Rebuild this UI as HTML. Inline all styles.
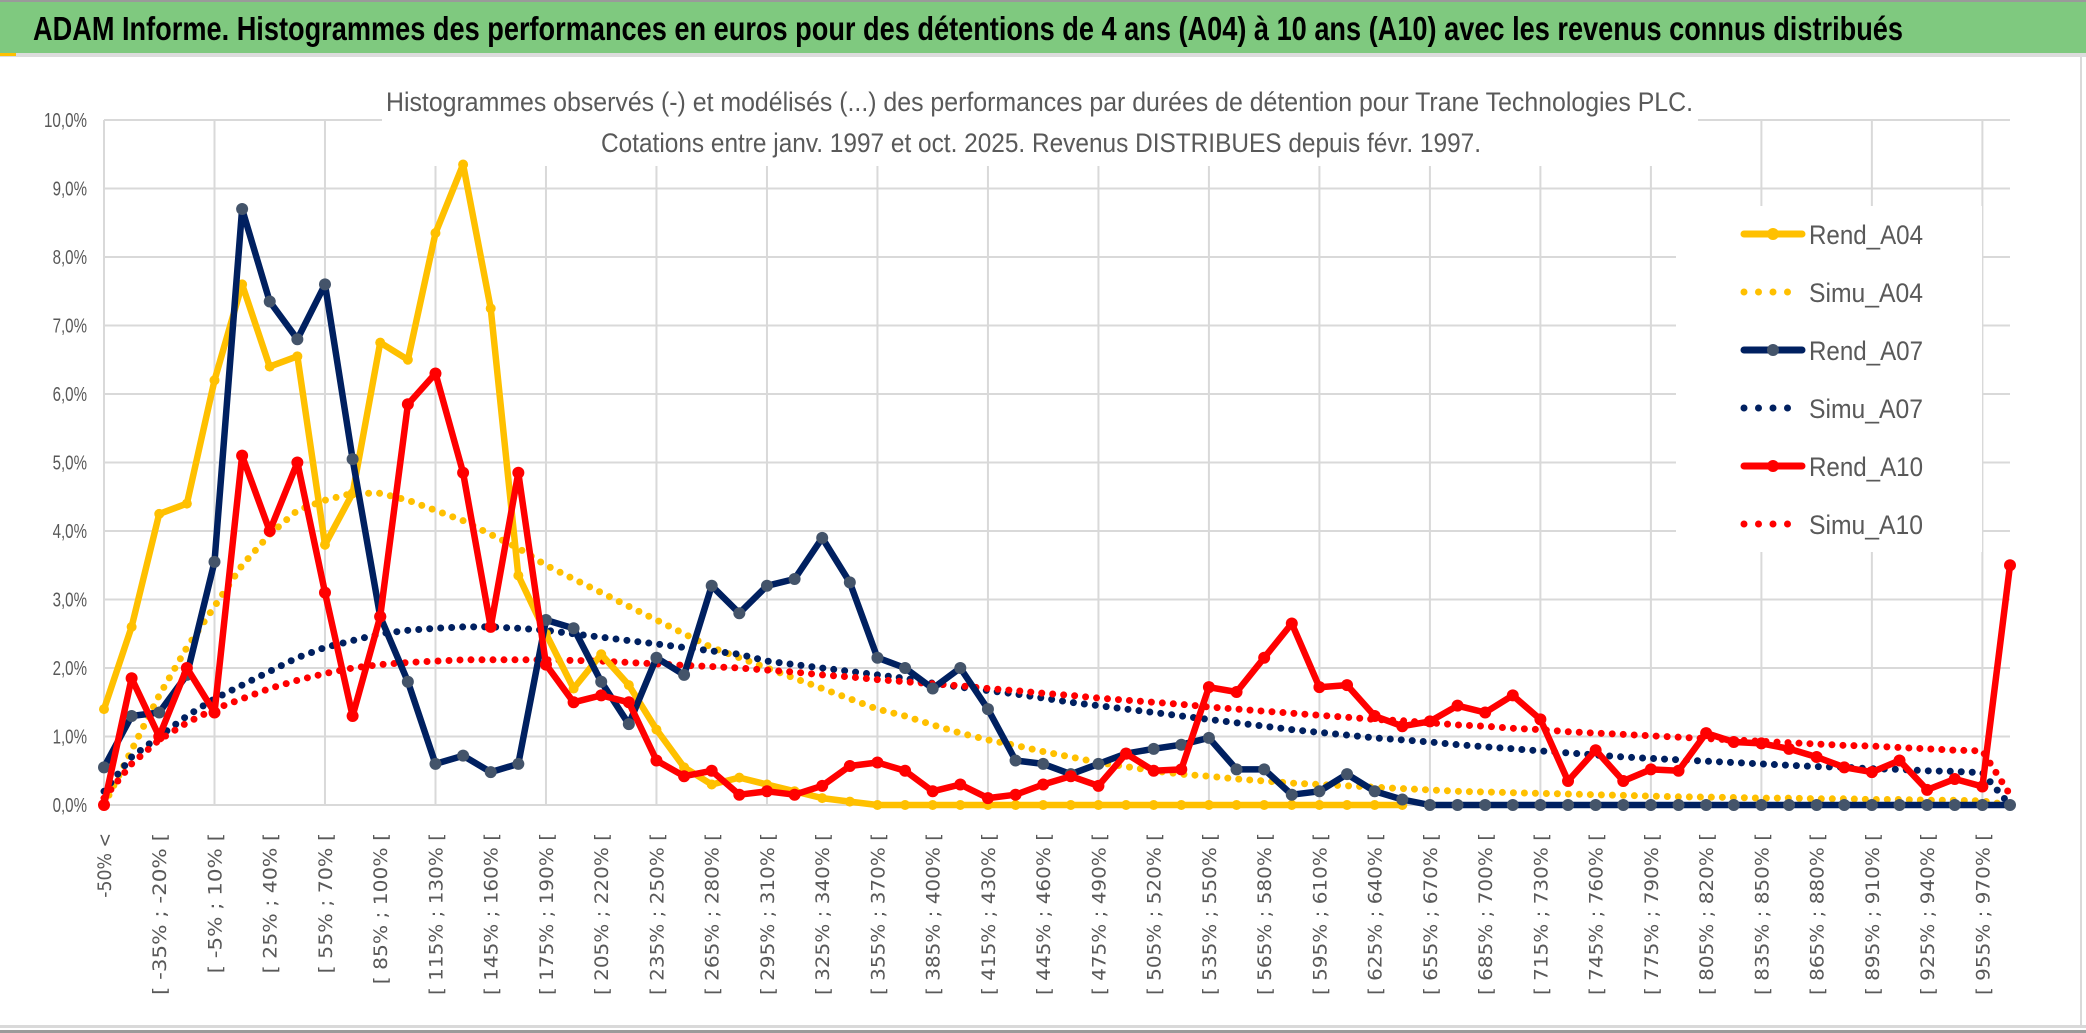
<!DOCTYPE html>
<html><head><meta charset="utf-8"><title>ADAM Informe</title>
<style>
html,body{margin:0;padding:0;background:#fff;}
svg{display:block;}
</style></head>
<body>
<svg id="chart" width="2086" height="1033" viewBox="0 0 2086 1033" xmlns="http://www.w3.org/2000/svg">
  <rect x="0" y="0" width="2086" height="1033" fill="#ffffff"/>
  <rect x="0" y="2" width="2086" height="51" fill="#7fc97f"/>
  <rect x="0" y="0" width="2086" height="2" fill="#9a9a9a"/>
  <rect x="0" y="53" width="2086" height="4" fill="#dcdcdc"/>
  <rect x="0" y="53" width="16" height="3" fill="#ffc000"/>
  <rect x="2080" y="57" width="2" height="970" fill="#d9d9d9"/>
  <rect x="0" y="1025" width="2086" height="3" fill="#d9d9d9"/>
  <rect x="0" y="1030" width="2086" height="3" fill="#9a9a9a"/>
  <text x="33" y="40" font-family="Liberation Sans, sans-serif" font-weight="bold" font-size="33" fill="#000" textLength="1870" lengthAdjust="spacingAndGlyphs">ADAM Informe. Histogrammes des performances en euros pour des détentions de 4 ans (A04) à 10 ans (A10) avec les revenus connus distribués</text>
  <g id="grid"></g>
  <rect x="382" y="78" width="1316" height="88" fill="#fff"/>
  <rect x="1676" y="206" width="306" height="346" fill="#fff"/>
  <text x="386" y="111" font-family="Liberation Sans, sans-serif" font-size="27" fill="#595959" textLength="1307" lengthAdjust="spacingAndGlyphs">Histogrammes observés (-) et modélisés (...) des performances par durées de détention pour Trane Technologies PLC.</text>
  <text x="601" y="152" font-family="Liberation Sans, sans-serif" font-size="27" fill="#595959" textLength="880" lengthAdjust="spacingAndGlyphs">Cotations entre janv. 1997 et oct. 2025. Revenus DISTRIBUES depuis févr. 1997.</text>
  <g id="yaxis"></g>
  <g id="xaxis"></g>
  <g id="series"></g>
  <g id="legend"></g>
</svg>
<script>
const rendA04 = [1.4,2.6,4.25,4.4,6.2,7.6,6.4,6.55,3.8,4.55,6.75,6.5,8.35,9.35,7.25,3.35,2.5,1.7,2.2,1.75,1.1,0.55,0.3,0.4,0.3,0.2,0.1,0.05,0,0,0,0,0,0,0,0,0,0,0,0,0,0,0,0,0,0,0,0];
const simuA04 = [0,0.8,1.6,2.3,2.9,3.5,3.95,4.3,4.45,4.55,4.55,4.45,4.3,4.15,3.95,3.75,3.5,3.3,3.1,2.9,2.7,2.5,2.3,2.15,2.0,1.85,1.7,1.55,1.4,1.3,1.17,1.05,0.95,0.87,0.78,0.7,0.62,0.56,0.5,0.45,0.42,0.38,0.35,0.32,0.3,0.28,0.26,0.24,0.22,0.2,0.19,0.18,0.17,0.16,0.15,0.14,0.13,0.12,0.115,0.11,0.1,0.1,0.09,0.09,0.08,0.08,0.07,0.07,0.06,0.0];
const rendA07 = [0.55,1.3,1.35,1.9,3.55,8.7,7.35,6.8,7.6,5.05,2.75,1.8,0.6,0.72,0.48,0.6,2.7,2.58,1.8,1.18,2.15,1.9,3.2,2.8,3.2,3.3,3.9,3.25,2.15,2.0,1.7,2.0,1.4,0.65,0.6,0.45,0.6,0.75,0.82,0.88,0.98,0.52,0.52,0.15,0.2,0.45,0.2,0.08,0,0,0,0,0,0,0,0,0,0,0,0,0,0,0,0,0,0,0,0,0,0];
const simuA07 = [0.2,0.7,1.0,1.3,1.55,1.75,1.95,2.15,2.3,2.4,2.5,2.55,2.58,2.6,2.6,2.58,2.55,2.5,2.45,2.4,2.35,2.3,2.25,2.2,2.1,2.05,2.0,1.95,1.9,1.85,1.78,1.72,1.67,1.62,1.56,1.5,1.45,1.4,1.35,1.3,1.25,1.2,1.15,1.1,1.06,1.02,0.98,0.95,0.92,0.88,0.85,0.82,0.79,0.76,0.73,0.7,0.68,0.66,0.64,0.62,0.6,0.58,0.56,0.55,0.53,0.52,0.5,0.49,0.47,0.0];
const rendA10 = [0,1.85,1.0,2.0,1.35,5.1,4.0,5.0,3.1,1.3,2.75,5.85,6.3,4.85,2.6,4.85,2.05,1.5,1.6,1.5,0.65,0.42,0.5,0.15,0.2,0.15,0.28,0.57,0.62,0.5,0.2,0.3,0.1,0.15,0.3,0.42,0.28,0.75,0.5,0.52,1.72,1.65,2.15,2.65,1.72,1.75,1.3,1.15,1.22,1.45,1.35,1.6,1.25,0.35,0.8,0.35,0.52,0.5,1.05,0.92,0.9,0.82,0.7,0.55,0.48,0.65,0.22,0.38,0.27,3.5];
const simuA10 = [0.1,0.6,0.95,1.2,1.4,1.55,1.7,1.82,1.92,2.0,2.05,2.08,2.1,2.12,2.12,2.12,2.12,2.11,2.1,2.08,2.06,2.04,2.02,2.0,1.97,1.94,1.9,1.87,1.83,1.8,1.77,1.74,1.7,1.67,1.63,1.6,1.56,1.53,1.5,1.47,1.43,1.4,1.37,1.34,1.31,1.28,1.25,1.23,1.2,1.17,1.15,1.12,1.1,1.07,1.05,1.03,1.01,0.99,0.97,0.95,0.93,0.91,0.89,0.87,0.86,0.84,0.82,0.8,0.79,0.15];
const yTicks = [0,1,2,3,4,5,6,7,8,9,10];
const categories = ["-50% <"];
for (let k = 1; k < 70; k++) { categories.push("[ " + (-50 + 15*(k-1)) + "% ; " + (-35 + 15*(k-1)) + "% ["); }

const NS = "http://www.w3.org/2000/svg";
const X0 = 104, X1 = 2010, Y0 = 805, Y10 = 120;
function xs(i){ return X0 + (X1 - X0) * i / (categories.length - 1); }
function ys(v){ return Y0 - (Y0 - Y10) * v / 10; }
function mk(tag, attrs, parent){ const e = document.createElementNS(NS, tag); for (const k in attrs) e.setAttribute(k, attrs[k]); parent.appendChild(e); return e; }

const grid = document.getElementById('grid');
yTicks.forEach(t => {
  const l = mk('line', {x1: X0, x2: X1, y1: ys(t), y2: ys(t), stroke: '#d9d9d9', 'stroke-width': 2}, grid);
  
  
});
for (let i = 0; i < categories.length; i += 4) {
  const l = mk('line', {x1: xs(i), x2: xs(i), y1: Y10, y2: Y0, stroke: '#d9d9d9', 'stroke-width': 2}, grid);
  
  
}

const yaxis = document.getElementById('yaxis');
yTicks.forEach(t => {
  const s = t.toFixed(1).replace('.', ',') + '%';
  const tx = mk('text', {x: 87, y: ys(t) + 7, 'text-anchor': 'end', 'font-family': 'Liberation Sans, sans-serif', 'font-size': 20, fill: '#595959', textLength: s.length * 8.6, lengthAdjust: 'spacingAndGlyphs'}, yaxis);
  tx.textContent = s;
  
  
});

const xaxis = document.getElementById('xaxis');
for (let i = 0; i < categories.length; i += 2) {
  const x = xs(i) + 7, y = 833;
  const tx = mk('text', {x: x, y: y, transform: 'rotate(-90 ' + x + ' ' + y + ')', 'text-anchor': 'end', 'font-family': 'DejaVu Sans, sans-serif', 'font-size': 19, fill: '#595959', textLength: categories[i].length * 10.8, lengthAdjust: 'spacingAndGlyphs'}, xaxis);
  tx.textContent = categories[i];
  
  
}

const series = document.getElementById('series');
function pts(arr){ return arr.map((v, i) => xs(i).toFixed(1) + ',' + ys(v).toFixed(1)).join(' '); }
function dotted(arr, color, name){
  const p = mk('polyline', {points: pts(arr), fill: 'none', stroke: color, 'stroke-width': 7, 'stroke-dasharray': '0 11', 'stroke-linecap': 'round'}, series);
  
  
}
function solid(arr, color, mcolor, r, name){
  const p = mk('polyline', {points: pts(arr), fill: 'none', stroke: color, 'stroke-width': 6.5, 'stroke-linejoin': 'round'}, series);
  
  
  arr.forEach((v, i) => {
    const c = mk('circle', {cx: xs(i), cy: ys(v), r: r, fill: mcolor}, series);
    
    
  });
}
dotted(simuA04, '#ffc000', 'simu-a04-line');
dotted(simuA07, '#002060', 'simu-a07-line');
dotted(simuA10, '#ff0000', 'simu-a10-line');
solid(rendA04, '#ffc000', '#ffc000', 5, 'rend-a04-line');
solid(rendA07, '#002060', '#44546a', 6, 'rend-a07-line');
solid(rendA10, '#ff0000', '#ff0000', 6, 'rend-a10-line');

const legend = document.getElementById('legend');
const legendNames = ['Rend_A04','Simu_A04','Rend_A07','Simu_A07','Rend_A10','Simu_A10'];
const legendColors = ['#ffc000','#ffc000','#002060','#002060','#ff0000','#ff0000'];
legendNames.forEach((n, k) => {
  const y = 234 + k * 58;
  const g = mk('g', {}, legend);
  
  
  if (k % 2 === 0) {
    mk('line', {x1: 1744, x2: 1802, y1: y, y2: y, stroke: legendColors[k], 'stroke-width': 7, 'stroke-linecap': 'round'}, g);
    mk('circle', {cx: 1773, cy: y, r: 6, fill: k === 2 ? '#44546a' : legendColors[k]}, g);
  } else {
    mk('line', {x1: 1744, x2: 1802, y1: y, y2: y, stroke: legendColors[k], 'stroke-width': 7, 'stroke-dasharray': '0 14.5', 'stroke-linecap': 'round'}, g);
  }
  const t = mk('text', {x: 1809, y: y + 10, 'font-family': 'Liberation Sans, sans-serif', 'font-size': 27, fill: '#595959', textLength: 114, lengthAdjust: 'spacingAndGlyphs'}, g);
  t.textContent = n;
});
</script>
</body></html>
